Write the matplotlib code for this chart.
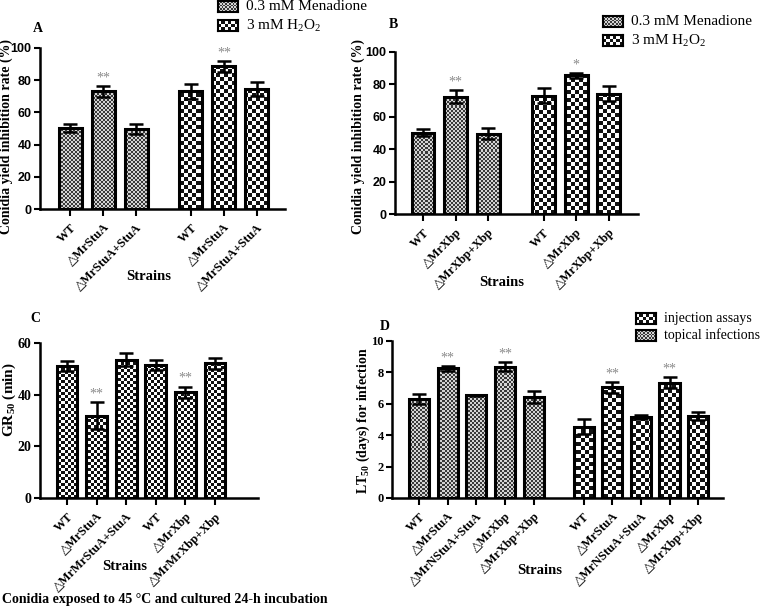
import numpy as np
import matplotlib
matplotlib.use('Agg')
import matplotlib.pyplot as plt
from matplotlib.colors import ListedColormap

plt.rcParams['font.family'] = ['Liberation Serif', 'DejaVu Serif']
plt.rcParams['mathtext.fontset'] = 'custom'
plt.rcParams['mathtext.rm'] = 'Liberation Serif'
plt.rcParams['mathtext.bf'] = 'Liberation Serif:bold'

# ---- data ----
a_labels = ['WT', '\u25b3MrStuA', '\u25b3MrStuA+StuA']
a_men = [50.2, 73.0, 49.6]
a_men_err = [2.5, 3.6, 3.1]
a_h2o2 = [73.0, 88.6, 74.5]
a_h2o2_err = [4.6, 3.5, 4.6]
a_men_stars = ['', '**', '']
a_h2o2_stars = ['', '**', '']

b_labels = ['WT', '\u25b3MrXbp', '\u25b3MrXbp+Xbp']
b_men = [50.2, 72.5, 49.6]
b_men_err = [2.3, 4.2, 3.3]
b_h2o2 = [73.1, 85.5, 74.2]
b_h2o2_err = [4.6, 1.7, 4.7]
b_men_stars = ['', '**', '']
b_h2o2_stars = ['', '*', '']

c_labels = ['WT', '\u25b3MrStuA', '\u25b3MrMrStuA+StuA', 'WT', '\u25b3MrXbp',
            '\u25b3MrMrXbp+Xbp']
c_vals = [51.2, 31.9, 53.6, 51.6, 41.0, 52.2]
c_err = [2.0, 5.1, 2.4, 2.0, 2.1, 2.1]
c_stars = ['', '**', '', '', '**', '']

d_labels = ['WT', '\u25b3MrStuA', '\u25b3MrNStuA+StuA', '\u25b3MrXbp',
            '\u25b3MrXbp+Xbp']
d_topical = [6.31, 8.26, 6.53, 8.37, 6.44]
d_topical_err = [0.32, 0.15, 0.04, 0.27, 0.38]
d_injection = [4.55, 7.05, 5.17, 7.35, 5.23]
d_injection_err = [0.5, 0.35, 0.12, 0.33, 0.27]
d_stars = ['', '**', '', '**', '']

W, H = 760, 610
FINE = (2, ['#d4d4d4', '#3a3a3a'])
LARGE = (4, ['#ffffff', '#111111'])
MID = (3, ['#ffffff', '#111111'])


def fig_rect(left, top, right, bottom):
    return [left / W, 1 - bottom / H, (right - left) / W, (bottom - top) / H]


def checker(ny, nx):
    return np.indices((ny, nx)).sum(axis=0) % 2


def fill_checker(ax, bars, pattern):
    cell, colors = pattern
    pos = ax.get_position()
    w, h = pos.width * W, pos.height * H
    nx, ny = int(w / cell) + 1, int(h / cell) + 1
    x0, x1 = ax.get_xlim()
    y0, y1 = ax.get_ylim()
    ext = (x0, x0 + (x1 - x0) * nx * cell / w, y0, y0 + (y1 - y0) * ny * cell / h)
    for b in bars:
        im = ax.imshow(checker(ny, nx), extent=ext, origin='lower',
                       cmap=ListedColormap(colors), interpolation='nearest',
                       aspect='auto', zorder=2)
        im.set_clip_path(b)
    ax.set_xlim(x0, x1)
    ax.set_ylim(y0, y1)


def draw_group(ax, x, vals, errs, stars, off):
    bars = ax.bar(x, vals, width=0.7, facecolor='none', edgecolor='black',
                  linewidth=2.2, zorder=3)
    ax.errorbar(x, vals, yerr=errs, fmt='none', ecolor='black', elinewidth=1.8,
                capsize=5, capthick=1.8, zorder=4)
    for xi, v, e, s in zip(x, vals, errs, stars):
        if s:
            ax.text(xi, v + e + off, s, ha='center', va='bottom', color='#8a8a8a',
                    fontsize=10)
    return bars


def style_axes(ax, ticks, labels, tick_family, tick_size):
    for s in ['top', 'right']:
        ax.spines[s].set_visible(False)
    for s in ['left', 'bottom']:
        ax.spines[s].set_linewidth(1.8)
    ax.set_xticks(ticks)
    ax.set_xticklabels(labels, rotation=45, ha='right', rotation_mode='anchor',
                       fontweight='bold', fontsize=9)
    ax.tick_params(axis='both', width=1.5, length=5)
    ax.tick_params(axis='x', pad=4)
    ax.tick_params(axis='y', pad=2, length=4)
    for t in ax.get_yticklabels():
        t.set_family(tick_family)
        t.set_fontweight('bold')
        t.set_fontsize(tick_size)


def legend_box(left, top, pattern, text, size=11):
    cell, colors = pattern
    lax = fig.add_axes(fig_rect(left, top, left + 20, top + 11))
    lax.imshow(checker(int(11 / cell) + 1, int(20 / cell) + 1),
               cmap=ListedColormap(colors), interpolation='nearest', aspect='auto')
    lax.set_xticks([])
    lax.set_yticks([])
    for s in lax.spines.values():
        s.set_linewidth(1.5)
    fig.text((left + 28) / W, 1 - (top + 5.5) / H, text, ha='left', va='center',
             fontsize=size)


fig = plt.figure(figsize=(W / 100, H / 100), dpi=100)

# ---- panel A ----
ax = fig.add_axes(fig_rect(40, 48, 285, 209))
g1 = np.arange(3)
g2 = g1 + 3.65
ax.set_xlim(-0.91, 6.5)
ax.set_ylim(0, 100)
ax.set_yticks(np.arange(0, 101, 20))
b1 = draw_group(ax, g1, a_men, a_men_err, a_men_stars, 1.0)
b2 = draw_group(ax, g2, a_h2o2, a_h2o2_err, a_h2o2_stars, 1.0)
fill_checker(ax, b1, FINE)
fill_checker(ax, b2, LARGE)
style_axes(ax, np.r_[g1, g2], a_labels * 2, 'Liberation Sans', 9)
fig.text(6 / W, 1 - 136 / H, 'Conidia yield inhibition rate (%)', rotation=90,
         ha='center', va='center', fontweight='bold', fontsize=10)
fig.text(149 / W, 1 - 277 / H, 'Strains', ha='center', va='center',
         fontweight='bold', fontsize=10.5)
fig.text(38 / W, 1 - 28 / H, 'A', ha='center', va='center', fontweight='bold',
         fontsize=10)
legend_box(218, 1, FINE, '0.3 mM Menadione')
legend_box(218, 20, LARGE, '3 mM H$_2$O$_2$')

# ---- panel B ----
ax = fig.add_axes(fig_rect(395, 52, 638, 214))
g2 = g1 + 3.7
ax.set_xlim(-0.86, 6.6)
ax.set_ylim(0, 100)
ax.set_yticks(np.arange(0, 101, 20))
b1 = draw_group(ax, g1, b_men, b_men_err, b_men_stars, 1.0)
b2 = draw_group(ax, g2, b_h2o2, b_h2o2_err, b_h2o2_stars, 1.0)
fill_checker(ax, b1, FINE)
fill_checker(ax, b2, LARGE)
style_axes(ax, np.r_[g1, g2], b_labels * 2, 'Liberation Sans', 9)
fig.text(358 / W, 1 - 136 / H, 'Conidia yield inhibition rate (%)', rotation=90,
         ha='center', va='center', fontweight='bold', fontsize=10)
fig.text(502 / W, 1 - 282 / H, 'Strains', ha='center', va='center',
         fontweight='bold', fontsize=10.5)
fig.text(393 / W, 1 - 25 / H, 'B', ha='center', va='center', fontweight='bold',
         fontsize=10)
legend_box(603, 16, FINE, '0.3 mM Menadione')
legend_box(603, 35, LARGE, '3 mM H$_2$O$_2$')

# ---- panel C ----
ax = fig.add_axes(fig_rect(40, 343, 258, 498))
xc = np.arange(len(c_vals))
ax.set_xlim(-0.91, 6.45)
ax.set_ylim(0, 60)
ax.set_yticks(np.arange(0, 61, 20))
bc = draw_group(ax, xc, c_vals, c_err, c_stars, 0.8)
fill_checker(ax, bc, MID)
style_axes(ax, xc, c_labels, 'Liberation Serif', 10)
fig.text(9 / W, 1 - 400 / H, 'GR$_{\\mathbf{50}}$ (min)', rotation=90,
         ha='center', va='center', fontweight='bold', fontsize=11)
fig.text(125 / W, 1 - 566 / H, 'Strains', ha='center', va='center',
         fontweight='bold', fontsize=10.5)
fig.text(35 / W, 1 - 318 / H, 'C', ha='center', va='center', fontweight='bold',
         fontsize=10)
fig.text(2 / W, 1 - 600 / H,
         'Conidia exposed to 45 \u00b0C and cultured 24-h incubation',
         ha='left', va='center', fontweight='bold', fontsize=10)

# ---- panel D ----
ax = fig.add_axes(fig_rect(392, 341, 723, 498))
d1 = np.arange(5)
d2 = d1 + 5.75
ax.set_xlim(-0.95, 10.62)
ax.set_ylim(0, 10)
ax.set_yticks(np.arange(0, 11, 2))
b1 = draw_group(ax, d1, d_topical, d_topical_err, d_stars, 0.1)
b2 = draw_group(ax, d2, d_injection, d_injection_err, d_stars, 0.1)
fill_checker(ax, b1, FINE)
fill_checker(ax, b2, LARGE)
style_axes(ax, np.r_[d1, d2], d_labels * 2, 'Liberation Serif', 9)
fig.text(363 / W, 1 - 421 / H, 'LT$_{\\mathbf{50}}$ (days) for infection',
         rotation=90, ha='center', va='center', fontweight='bold', fontsize=10)
fig.text(540 / W, 1 - 570 / H, 'Strains', ha='center', va='center',
         fontweight='bold', fontsize=10.5)
fig.text(385 / W, 1 - 327 / H, 'D', ha='center', va='center', fontweight='bold',
         fontsize=10)
legend_box(636, 313, LARGE, 'injection assays', 10)
legend_box(636, 330, FINE, 'topical infections', 10)

fig.savefig('out.png', dpi=100)
